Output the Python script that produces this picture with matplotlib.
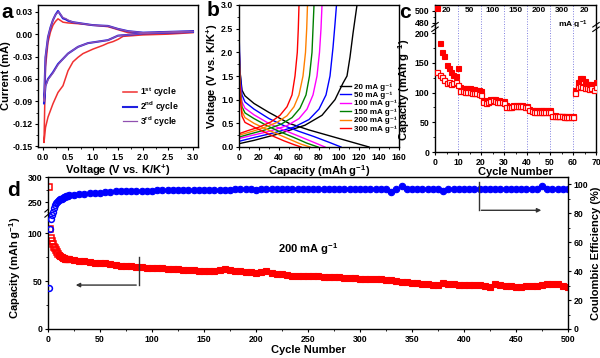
import matplotlib
matplotlib.use('Agg')
import matplotlib.pyplot as plt
from matplotlib.ticker import MultipleLocator, FormatStrFormatter

# --- a : CV curves ---
cv1_v = [3.0, 2.5, 2.0, 1.6, 1.5, 1.4, 1.3, 1.2, 1.0, 0.8, 0.7, 0.65, 0.6, 0.5, 0.4, 0.3, 0.2, 0.1, 0.05, 0.02,
         0.05, 0.1, 0.15, 0.2, 0.25, 0.3, 0.4, 0.5, 0.7, 1.0, 1.3, 1.5, 1.7, 2.0, 2.5, 3.0]
cv1_i = [0.002, 0.000, -0.001, -0.003, -0.007, -0.010, -0.012, -0.015, -0.020, -0.026, -0.031, -0.034, -0.037, -0.049,
         -0.069, -0.078, -0.093, -0.111, -0.125, -0.145,
         -0.044, -0.011, 0.003, 0.012, 0.017, 0.0205, 0.016, 0.015, 0.014, 0.012, 0.010, 0.006, 0.002, 0.001, 0.002, 0.003]
cv2_v = [3.0, 2.5, 2.0, 1.7, 1.5, 1.3, 1.1, 0.9, 0.7, 0.5, 0.4, 0.3, 0.2, 0.1, 0.05, 0.02,
         0.05, 0.1, 0.15, 0.2, 0.25, 0.3, 0.4, 0.45, 0.5, 0.6, 0.8, 1.0, 1.3, 1.5, 1.7, 2.0, 2.5, 3.0]
cv2_i = [0.003, 0.002, 0.001, -0.001, -0.002, -0.008, -0.010, -0.012, -0.017, -0.026, -0.033, -0.040, -0.051, -0.060,
         -0.069, -0.093,
         -0.031, -0.004, 0.009, 0.019, 0.026, 0.031, 0.021, 0.020, 0.018, 0.016, 0.014, 0.012, 0.011, 0.007, 0.004,
         0.002, 0.003, 0.004]
cv3_v = [3.0, 2.5, 2.0, 1.7, 1.5, 1.3, 1.1, 0.9, 0.7, 0.5, 0.4, 0.3, 0.2, 0.1, 0.05, 0.02,
         0.05, 0.1, 0.15, 0.2, 0.25, 0.31, 0.4, 0.45, 0.5, 0.6, 0.8, 1.0, 1.3, 1.5, 1.7, 2.0, 2.5, 3.0]
cv3_i = [0.003, 0.002, 0.001, -0.001, -0.002, -0.008, -0.010, -0.012, -0.017, -0.026, -0.033, -0.041, -0.052, -0.061,
         -0.070, -0.090,
         -0.030, -0.004, 0.009, 0.019, 0.026, 0.030, 0.022, 0.021, 0.019, 0.016, 0.014, 0.012, 0.011, 0.007, 0.004,
         0.002, 0.003, 0.004]

# --- b : charge / discharge profiles ---
rates_b = ['20', '50', '100', '150', '200', '300']
colors_b = ['black', '#0000ff', '#ff00ff', '#008000', '#ff8000', '#ff0000']
chg_cap = [
    [0, 15, 40, 66, 83, 96, 104, 108, 111, 114, 118],
    [0, 15, 35, 55, 70, 80, 87, 91, 94, 96, 97.5],
    [0, 12, 30, 48, 60, 68, 74, 78, 80.5, 82, 83],
    [0, 10, 26, 42, 53, 61, 67, 70.5, 73, 74, 75],
    [0, 10, 24, 38, 48, 55, 60, 64, 66.5, 67.7, 68.5],
    [0, 8, 20, 32, 41, 48, 53, 56, 58.3, 59.3, 60],
]
chg_v = [
    [0.07, 0.14, 0.28, 0.46, 0.67, 1.0, 1.35, 1.5, 1.9, 2.4, 3.0],
    [0.12, 0.2, 0.3, 0.42, 0.58, 0.8, 1.1, 1.5, 2.1, 2.6, 3.0],
    [0.18, 0.24, 0.33, 0.45, 0.6, 0.8, 1.1, 1.5, 2.0, 2.5, 3.0],
    [0.21, 0.27, 0.36, 0.48, 0.62, 0.82, 1.1, 1.5, 2.0, 2.5, 3.0],
    [0.25, 0.31, 0.4, 0.52, 0.66, 0.85, 1.1, 1.5, 2.0, 2.5, 3.0],
    [0.28, 0.34, 0.42, 0.53, 0.67, 0.85, 1.1, 1.5, 2.0, 2.5, 3.0],
]
dis_cap = [
    [0, 1, 3, 6, 15, 30, 50, 70, 90, 110, 130],
    [0, 1, 3, 6, 15, 30, 45, 60, 75, 90, 102],
    [0, 1, 3, 6, 15, 28, 40, 55, 70, 86],
    [0, 1, 3, 6, 15, 28, 40, 55, 68, 79],
    [0, 1, 3, 6, 15, 28, 40, 52, 62, 71],
    [0, 1, 3, 6, 15, 25, 35, 45, 55, 62],
]
dis_v = [
    [2.2, 1.6, 1.2, 1.08, 0.92, 0.73, 0.5, 0.36, 0.24, 0.12, 0.0],
    [2.5, 1.6, 1.1, 0.95, 0.8, 0.6, 0.45, 0.33, 0.22, 0.1, 0.0],
    [2.3, 1.4, 0.95, 0.82, 0.68, 0.52, 0.4, 0.27, 0.14, 0.0],
    [2.2, 1.3, 0.85, 0.72, 0.6, 0.45, 0.33, 0.2, 0.08, 0.0],
    [2.1, 1.2, 0.75, 0.62, 0.5, 0.37, 0.26, 0.15, 0.06, 0.0],
    [2.0, 1.1, 0.65, 0.52, 0.42, 0.32, 0.22, 0.13, 0.05, 0.0],
]

# --- c : rate capability ---
c_cycle = list(range(1, 71))
c_filled = [505, 183, 168, 162, 146, 141, 134, 130, 128, 141,
            110, 108, 108, 107, 108, 106, 106, 105, 104, 103,
            88, 86, 88, 90, 90, 89, 88, 87, 86, 86,
            79, 78, 78, 79, 80, 80, 79, 79, 78, 77,
            72, 71, 70, 70, 70, 70, 70, 70, 70, 70,
            62, 62, 61, 61, 61, 61, 61, 61, 61, 60,
            105, 118, 124, 124, 120, 115, 115, 114, 113, 118]
c_open = [135, 129, 126, 122, 117, 118, 114, 116, 118, 113,
          103, 102, 101, 101, 101, 100, 100, 99, 98, 96,
          84, 83, 85, 86, 87, 86, 85, 84, 84, 83,
          76, 76, 76, 77, 78, 78, 77, 77, 76, 75,
          70, 69, 68, 68, 68, 68, 68, 68, 68, 68,
          60, 60, 60, 60, 60, 59, 59, 59, 59, 59,
          100, 110, 112, 110, 108, 108, 106, 107, 105, 110]
c_rates = ['20', '50', '100', '150', '200', '300', '20']
c_rate_mid = [5, 15, 25, 35, 45, 55, 65]
c_steps = [10, 20, 30, 40, 50, 60]

# --- d : long cycling at 200 mA/g ---
d_cycle = list(range(1, 21)) + list(range(25, 501, 5))
d_cap = [280, 104, 95, 92, 89, 86, 84, 82, 80, 78, 77, 76, 75, 74.5, 74, 73.5, 73, 73, 72.5, 72.5,
         71.5, 71, 70.5, 70, 69, 68.5, 68.5, 67.5, 67, 66,
         66, 65.5, 65, 64.5, 64, 64, 64, 63.5, 63, 63,
         62.5, 62, 62, 61.5, 61, 61, 61, 60.5, 61.5, 63,
         61.5, 60.5, 60, 59.5, 59, 58.5, 59.5, 61, 58.5, 57.5,
         57, 56, 55.5, 55, 55, 55, 55, 55, 54.5, 54.5,
         54.5, 54, 53.5, 53, 53, 52.5, 52.5, 52.5, 52, 52,
         51.5, 51, 50, 49.5, 48.5, 48, 47.5, 47, 46.5, 46,
         46, 48, 47, 46.5, 46, 46, 46, 45.5, 45.5, 44.5,
         44, 47, 46, 45, 44.5, 44, 44, 44.5, 45, 45,
         45.5, 46.5, 47, 46.5, 45, 43.5]
d_ce = [28, 69, 76, 79, 81, 83.5, 85.5, 87, 88, 88.5, 89, 89.5, 90, 90.5, 91, 91.3, 91.6, 92, 92.2, 92.4,
        92.8, 93.2, 93.5, 93.8, 94, 94.2, 94.5, 94.7, 95, 95.2,
        95.3, 95.4, 95.5, 95.5, 95.6, 95.6, 95.7, 95.8, 95.8, 95.9,
        96, 96, 96, 96.1, 96.1, 96.2, 96.2, 96.2, 96.3, 96.3,
        96.3, 96.4, 96.4, 96.4, 96.5, 96.3, 96.5, 96.6, 96.5, 96.5,
        96.5, 96.6, 96.6, 96.6, 96.6, 96.6, 96.6, 96.7, 96.7, 96.7,
        96.7, 96.7, 96.8, 96.8, 96.8, 96.8, 96.8, 96.8, 96.8, 96.8,
        96.8, 94.5, 97, 98.5, 96.9, 96.9, 96.9, 96.9, 96.9, 96.9,
        97, 95, 97, 97, 97, 97, 97, 97, 97, 97,
        97, 97, 97, 97, 97, 97, 97, 97, 97, 97,
        98.5, 97, 97, 97, 97, 97]

plt.rcParams['font.family'] = ['Liberation Sans', 'DejaVu Sans']
plt.rcParams['font.weight'] = 'bold'
plt.rcParams['axes.labelweight'] = 'bold'
plt.rcParams['mathtext.fontset'] = 'custom'
plt.rcParams['mathtext.rm'] = 'Liberation Sans:bold'
plt.rcParams['mathtext.bf'] = 'Liberation Sans:bold'
plt.rcParams['mathtext.it'] = 'Liberation Sans:bold'
plt.rcParams['mathtext.default'] = 'bf'
plt.rcParams['axes.unicode_minus'] = False
plt.rcParams['axes.linewidth'] = 1.0
for ax_ in ('xtick', 'ytick'):
    plt.rcParams[ax_ + '.labelsize'] = 6.3
    plt.rcParams[ax_ + '.direction'] = 'out'
    plt.rcParams[ax_ + '.major.size'] = 2.5
    plt.rcParams[ax_ + '.minor.size'] = 1.5
    plt.rcParams[ax_ + '.major.width'] = 0.8
    plt.rcParams[ax_ + '.minor.width'] = 0.6
    plt.rcParams[ax_ + '.major.pad'] = 1.5

W, H = 600, 358
fig = plt.figure(figsize=(W / 100, H / 100), dpi=100)


def px_axes(x0, y0, x1, y1):
    return fig.add_axes([x0 / W, 1 - y1 / H, (x1 - x0) / W, (y1 - y0) / H])


def break_marks(ax, xs, y, dx, dy):
    # petites marques "//" de coupure d'axe
    for x in xs:
        for off in (-dy, dy):
            ax.plot([x - dx, x + dx], [y + off - dy, y + off + dy], color='black', lw=0.8,
                    transform=ax.transAxes, clip_on=False, zorder=10)


LAB = 8

# a
ax = px_axes(38, 5, 198, 147)
ax.plot(cv1_v, cv1_i, color='#f03030', lw=1.1, label='1$^{st}$ cycle')
ax.plot(cv2_v, cv2_i, color='#2020e0', lw=1.5, label='2$^{nd}$ cycle')
ax.plot(cv3_v, cv3_i, color='#9050b0', lw=0.9, label='3$^{rd}$ cycle')
ax.set_xlim(-0.1, 3.1)
ax.set_ylim(-0.151, 0.039)
ax.xaxis.set_major_locator(MultipleLocator(0.5))
ax.xaxis.set_minor_locator(MultipleLocator(0.25))
ax.yaxis.set_major_locator(MultipleLocator(0.03))
ax.yaxis.set_minor_locator(MultipleLocator(0.015))
ax.xaxis.set_major_formatter(FormatStrFormatter('%.1f'))
ax.yaxis.set_major_formatter(FormatStrFormatter('%.2f'))
ax.set_xlabel('Voltage (V vs. K/K$^{+}$)', fontsize=LAB, labelpad=1)
ax.set_ylabel('Current (mA)', fontsize=LAB, labelpad=1)
ax.legend(loc='lower left', fontsize=6.3, frameon=False, handlelength=1.6, labelspacing=0.05,
          bbox_to_anchor=(0.53, 0.13), handletextpad=0.4, borderpad=0, borderaxespad=0)

# b
ax = px_axes(239, 5, 399, 147)
for i in range(len(rates_b)):
    ax.plot(chg_cap[i], chg_v[i], color=colors_b[i], lw=1.0, label=rates_b[i] + ' mA g\u207b\u00b9')
    ax.plot(dis_cap[i], dis_v[i], color=colors_b[i], lw=1.0)
ax.set_xlim(0, 160)
ax.set_ylim(0, 3)
ax.xaxis.set_major_locator(MultipleLocator(20))
ax.xaxis.set_minor_locator(MultipleLocator(10))
ax.yaxis.set_major_locator(MultipleLocator(0.5))
ax.yaxis.set_minor_locator(MultipleLocator(0.25))
ax.yaxis.set_major_formatter(FormatStrFormatter('%.1f'))
ax.set_xlabel('Capacity (mAh g$^{-1}$)', fontsize=LAB, labelpad=1)
ax.set_ylabel('Voltage (V vs. K/K$^{+}$)', fontsize=LAB, labelpad=1)
ax.legend(loc='lower left', fontsize=5.8, frameon=False, handlelength=1.4, labelspacing=0.1,
          bbox_to_anchor=(0.63, 0.1), handletextpad=0.4, borderpad=0, borderaxespad=0)

# c
ax_ct = px_axes(435, 5, 596, 27)
ax_cb = px_axes(435, 27, 596, 152)
for a_ in (ax_ct, ax_cb):
    a_.plot(c_cycle, c_filled, 's', color='#ff0000', ms=3.6, mew=0.8, zorder=3)
    a_.plot(c_cycle, c_open, 's', color='#ff0000', mfc='white', ms=3.6, mew=0.9, zorder=4)
    for s in c_steps:
        a_.axvline(s, color='#8080e0', lw=0.7, ls=':', zorder=1)
    a_.set_xlim(0, 70)
ax_ct.set_ylim(472.8, 509.5)
ax_cb.set_ylim(0, 210.6)
ax_ct.spines['bottom'].set_visible(False)
ax_cb.spines['top'].set_visible(False)
ax_ct.tick_params(axis='x', which='both', bottom=False, labelbottom=False)
ax_ct.set_yticks([480, 500])
ax_ct.yaxis.set_minor_locator(MultipleLocator(10))
ax_cb.yaxis.set_major_locator(MultipleLocator(50))
ax_cb.yaxis.set_minor_locator(MultipleLocator(25))
ax_cb.xaxis.set_major_locator(MultipleLocator(10))
ax_cb.xaxis.set_minor_locator(MultipleLocator(5))
ax_cb.set_xlabel('Cycle Number', fontsize=LAB, labelpad=0)
ax_cb.set_ylabel('Capacity (mAh g$^{-1}$)', fontsize=LAB, labelpad=2)
for m, r in zip(c_rate_mid, c_rates):
    ax_ct.text(m, 500, r, fontsize=6.0, ha='center', va='center')
ax_ct.text(60, 476, 'mA g$^{-1}$', fontsize=6.0, ha='center', va='center')
break_marks(ax_cb, (0, 1), 1.0, 0.02, 0.018)

# d
ax_d = px_axes(48, 212, 568, 329)
ax_dt = px_axes(48, 177, 568, 212)
ax_ce = px_axes(48, 177, 568, 329)
ax_ce.patch.set_visible(False)
n_open = 10  # premiers cycles en symboles creux, ensuite la bande est dense
for a_ in (ax_d, ax_dt):
    a_.plot(d_cycle[:n_open], d_cap[:n_open], 's', color='#ff0000', mfc='none', ms=4.2, mew=1.1)
    a_.plot(d_cycle[n_open:], d_cap[n_open:], 's', color='#ff0000', ms=4.6, mew=0.8)
    a_.set_xlim(0, 500)
    a_.spines['right'].set_visible(False)
ax_d.set_ylim(0, 122)
ax_dt.set_ylim(230, 300)
ax_d.spines['top'].set_visible(False)
ax_dt.spines['bottom'].set_visible(False)
ax_dt.spines['top'].set_visible(False)
ax_dt.tick_params(axis='x', which='both', bottom=False, labelbottom=False)
ax_dt.set_yticks([250, 300])
ax_dt.yaxis.set_minor_locator(MultipleLocator(25))
ax_d.yaxis.set_major_locator(MultipleLocator(50))
ax_d.yaxis.set_minor_locator(MultipleLocator(25))
ax_d.xaxis.set_major_locator(MultipleLocator(50))
ax_d.xaxis.set_minor_locator(MultipleLocator(25))
ax_d.set_xlabel('Cycle Number', fontsize=LAB, labelpad=1)

ax_ce.plot(d_cycle[:n_open], d_ce[:n_open], 'o', color='#0000ff', mfc='none', ms=4.2, mew=1.1)
ax_ce.plot(d_cycle[n_open:], d_ce[n_open:], 'o', color='#0000ff', ms=4.6, mew=0.8)
ax_ce.set_xlim(0, 500)
ax_ce.set_ylim(0, 105)
ax_ce.spines['left'].set_visible(False)
ax_ce.spines['bottom'].set_visible(False)
ax_ce.yaxis.tick_right()
ax_ce.yaxis.set_label_position('right')
ax_ce.tick_params(axis='x', which='both', bottom=False, labelbottom=False)
ax_ce.yaxis.set_major_locator(MultipleLocator(20))
ax_ce.yaxis.set_minor_locator(MultipleLocator(10))
ax_ce.set_ylabel('Coulombic Efficiency (%)', fontsize=LAB, labelpad=2)
fig.text(15 / W, 1 - 268 / H, 'Capacity (mAh g$^{-1}$)', fontsize=LAB, rotation=90, ha='center', va='center')
break_marks(ax_d, (0,), 1.0, 0.006, 0.022)

ax_d.text(250, 83, '200 mA g$^{-1}$', fontsize=LAB, ha='center', va='center')
ax_d.plot([87.5, 87.5], [75.3, 45.8], color='#333333', lw=1.0)
ax_d.annotate('', xy=(24, 45.8), xytext=(87.5, 45.8),
              arrowprops=dict(arrowstyle='-|>', color='#333333', lw=1.0, mutation_scale=6))
ax_ce.plot([414, 414], [101.4, 82], color='#333333', lw=1.0)
ax_ce.annotate('', xy=(477, 82), xytext=(414, 82),
               arrowprops=dict(arrowstyle='-|>', color='#333333', lw=1.0, mutation_scale=6))

# lettres des panneaux
for (x, y, t) in [(7, 13, 'a'), (213, 11, 'b'), (405, 13, 'c'), (14, 190, 'd')]:
    fig.text(x / W, 1 - y / H, t, fontsize=15, fontweight='bold', ha='center', va='center')

fig.savefig('out.png', dpi=100)
plt.close(fig)
